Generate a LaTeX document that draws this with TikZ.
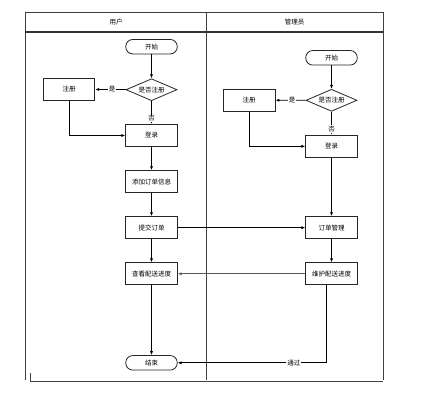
\documentclass[tikz,border=0pt]{standalone}
\usepackage{fontspec}
\setmainfont{Noto Sans CJK SC}
\usetikzlibrary{arrows.meta,shapes.geometric}
\tikzset{
  every node/.style={font=\fontsize{6.5pt}{7pt}\selectfont, inner sep=0pt},
  proc/.style={draw=black!85, line width=0.9pt, rectangle, minimum width=51.5pt, minimum height=22pt, fill=white},
  term/.style={draw=black!85, line width=0.8pt, rectangle, rounded corners=7pt, minimum width=51.5pt, minimum height=14.5pt, fill=white},
  dec/.style={draw=black!85, line width=0.8pt, diamond, aspect=2.3, minimum width=51pt, minimum height=22pt, inner sep=0pt, fill=white},
  flow/.style={line width=0.8pt, -{Latex[length=4pt,width=3.2pt]}},
  lane/.style={line width=0.9pt, draw=black!75},
  lbl/.style={fill=white, inner sep=1pt}
}
\begin{document}
\begin{tikzpicture}[x=1pt,y=-1pt]
\useasboundingbox (0,0) rectangle (423,392);
% frame
\draw[lane] (25,380) -- (25,12) -- (383,12) -- (383,380);
\draw[lane] (30,373) -- (30,381) -- (383,381);
\draw[lane] (206,12) -- (206,380);
\draw[line width=1.4pt, draw=black!80] (25,32) -- (383,32);
\node (h1) at (116,22) {用户};
\node (h2) at (294.5,22) {管理员};
% left lane
\node[term] (s1) at (151.5,46.7) {开始};
\node[dec] (d1) at (151.5,89.7) {是否注册};
\node[proc] (r1) at (69,89.3) {注册};
\node[proc] (l1) at (151.5,135.5) {登录};
\node[proc] (a1) at (151.5,181.7) {添加订单信息};
\node[proc] (t1) at (151.5,227.7) {提交订单};
\node[proc] (c1) at (151.5,273.8) {查看配送进度};
\node[term] (e1) at (151.5,362.8) {结束};
% right lane
\node[term] (s2) at (331.5,57.8) {开始};
\node[dec] (d2) at (331.5,100.3) {是否注册};
\node[proc] (r2) at (249.2,100.2) {注册};
\node[proc] (l2) at (331.5,146.3) {登录};
\node[proc] (o2) at (331.5,227.7) {订单管理};
\node[proc] (m2) at (331.5,273.8) {维护配送进度};
\coordinate (m2b) at (326.7,285);
\coordinate (corner) at (326.7,362.8);
% left flows
\draw[flow] (s1) -- (d1);
\draw[flow] (d1) -- node[lbl, pos=0.45] {是} (r1);
\draw[flow] (d1) -- node[lbl, pos=0.75] {否} (l1);
\draw[flow] (r1.south) |- (l1.west);
\draw[flow] (l1) -- (a1);
\draw[flow] (a1) -- (t1);
\draw[flow] (t1) -- (c1);
\draw[flow] (c1) -- (e1);
% right flows
\draw[flow] (s2) -- (d2);
\draw[flow] (d2) -- node[lbl, pos=0.45] {是} (r2);
\draw[flow] (d2) -- node[lbl, pos=0.75] {否} (l2);
\draw[flow] (r2.south) |- (l2.west);
\draw[flow] (l2) -- (o2);
\draw[flow] (o2) -- (m2);
% cross flows
\draw[flow] (t1) -- (o2);
\draw[flow, line width=1.1pt, draw=black!65] (m2) -- (c1);
\draw[flow] (m2b) -- (corner) -- node[lbl, pos=0.22] {通过} (e1.east);
\end{tikzpicture}
\end{document}
